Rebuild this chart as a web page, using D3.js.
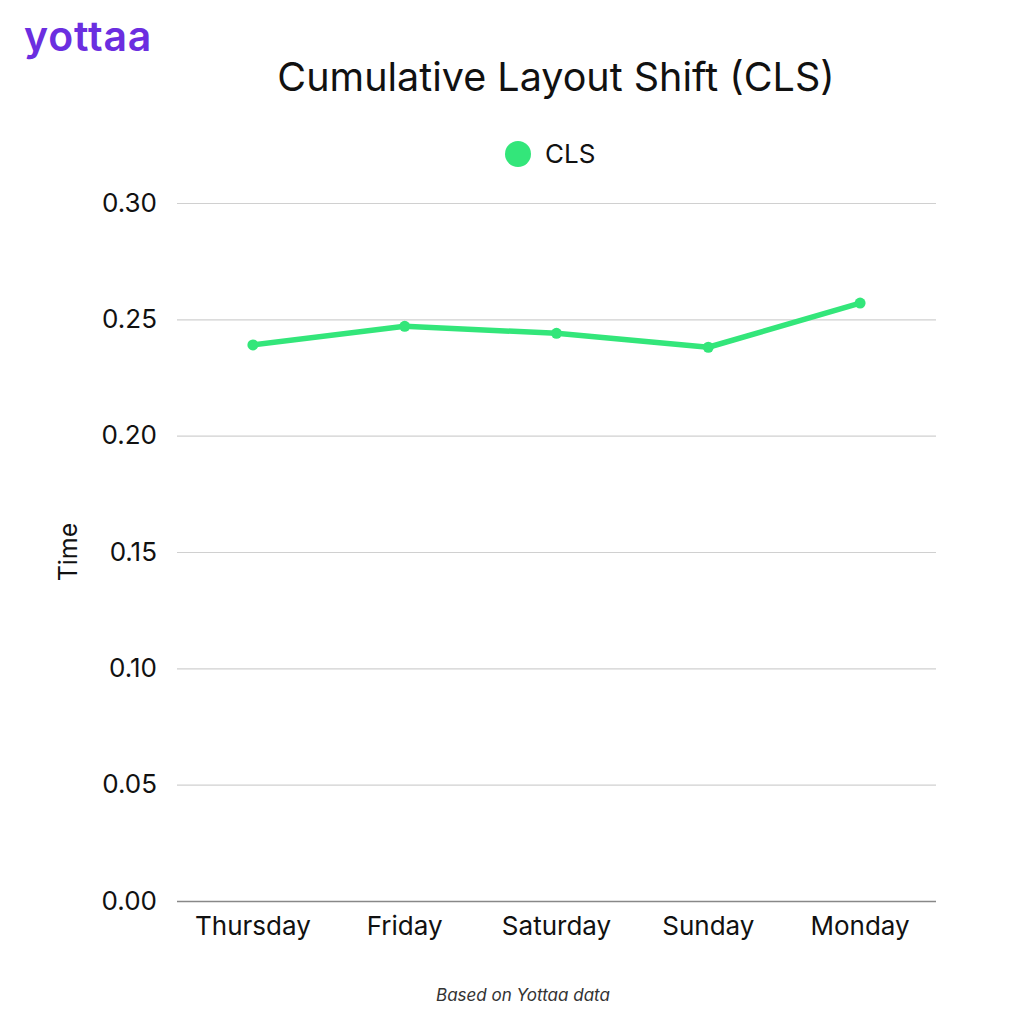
<!DOCTYPE html>
<html>
<head>
<meta charset="utf-8">
<script src="https://cdn.jsdelivr.net/npm/d3@7"></script>
<style>
  body { margin: 0; background: #fff; }
  text { font-family: Inter, "Noto Sans", sans-serif; }
</style>
</head>
<body>
<div id="chart"></div>
<script>
// chart data
const days = ["Thursday", "Friday", "Saturday", "Sunday", "Monday"];
const clsValues = [0.239, 0.247, 0.244, 0.238, 0.257];
const yTicks = [0, 0.05, 0.1, 0.15, 0.2, 0.25, 0.3];

const width = 1024;
const height = 1024;
const margin = { top: 203, right: 88, bottom: 123, left: 177 };
const green = "#33e67a";
const font = "Inter, 'Noto Sans', sans-serif";

const svg = d3
  .select("#chart")
  .append("svg")
  .attr("width", width)
  .attr("height", height);

//scales
const x = d3
  .scaleBand()
  .domain(days)
  .range([margin.left, width - margin.right]);

const y = d3
  .scaleLinear()
  .domain([0, 0.3])
  .range([height - margin.bottom, margin.top]);

//logo
svg
  .append("text")
  .attr("x", 24)
  .attr("y", 51)
  .attr("font-size", 41)
  .attr("font-weight", 600)
  .attr("fill", "#6b2ee0")
  .style("letter-spacing", "0.8px")
  .text("yottaa");

//title
svg
  .append("text")
  .attr("x", 556)
  .attr("y", 91)
  .attr("text-anchor", "middle")
  .attr("font-size", 39.5)
  .attr("fill", "#111")
  .text("Cumulative Layout Shift (CLS)");

//legend
svg.append("circle").attr("cx", 518).attr("cy", 154).attr("r", 13).attr("fill", green);
svg
  .append("text")
  .attr("x", 545)
  .attr("y", 163)
  .attr("font-size", 26)
  .attr("fill", "#111")
  .text("CLS");

//y grid + labels
const yAxis = svg
  .append("g")
  .attr("transform", `translate(${margin.left},0)`)
  .call(
    d3
      .axisLeft(y)
      .tickValues(yTicks)
      .tickSize(-(width - margin.left - margin.right))
      .tickPadding(20)
      .tickFormat(d3.format(".2f"))
  );
yAxis.select(".domain").remove();
yAxis
  .selectAll(".tick line")
  .attr("stroke", (d) => (d === 0 ? "#888" : "#d0d0d0"))
  .attr("stroke-width", (d) => (d === 0 ? 1.5 : 1.2));
yAxis
  .selectAll(".tick text")
  .attr("font-size", 26)
  .attr("fill", "#111")
  .style("font-family", font);

//x labels
const xAxis = svg
  .append("g")
  .attr("transform", `translate(0,${height - margin.bottom})`)
  .call(d3.axisBottom(x).tickSize(0).tickPadding(16));
xAxis.select(".domain").remove();
xAxis
  .selectAll(".tick text")
  .attr("font-size", 26)
  .attr("fill", "#111")
  .style("font-family", font);

//y axis title
svg
  .append("text")
  .attr("transform", `translate(77,552) rotate(-90)`)
  .attr("text-anchor", "middle")
  .attr("font-size", 25)
  .attr("fill", "#111")
  .text("Time");

//line
const points = days.map((d, i) => ({ day: d, value: clsValues[i] }));
const line = d3
  .line()
  .x((d) => x(d.day) + x.bandwidth() / 2)
  .y((d) => y(d.value));

svg
  .append("path")
  .datum(points)
  .attr("d", line)
  .attr("fill", "none")
  .attr("stroke", green)
  .attr("stroke-width", 5.5)
  .attr("stroke-linejoin", "round");

svg
  .selectAll(".dot")
  .data(points)
  .enter()
  .append("circle")
  .attr("class", "dot")
  .attr("cx", (d) => x(d.day) + x.bandwidth() / 2)
  .attr("cy", (d) => y(d.value))
  .attr("r", 5.5)
  .attr("fill", green);

//footer
svg
  .append("text")
  .attr("x", 523)
  .attr("y", 1001)
  .attr("text-anchor", "middle")
  .attr("font-size", 17)
  .attr("font-style", "italic")
  .attr("fill", "#333")
  .text("Based on Yottaa data");
</script>
</body>
</html>
